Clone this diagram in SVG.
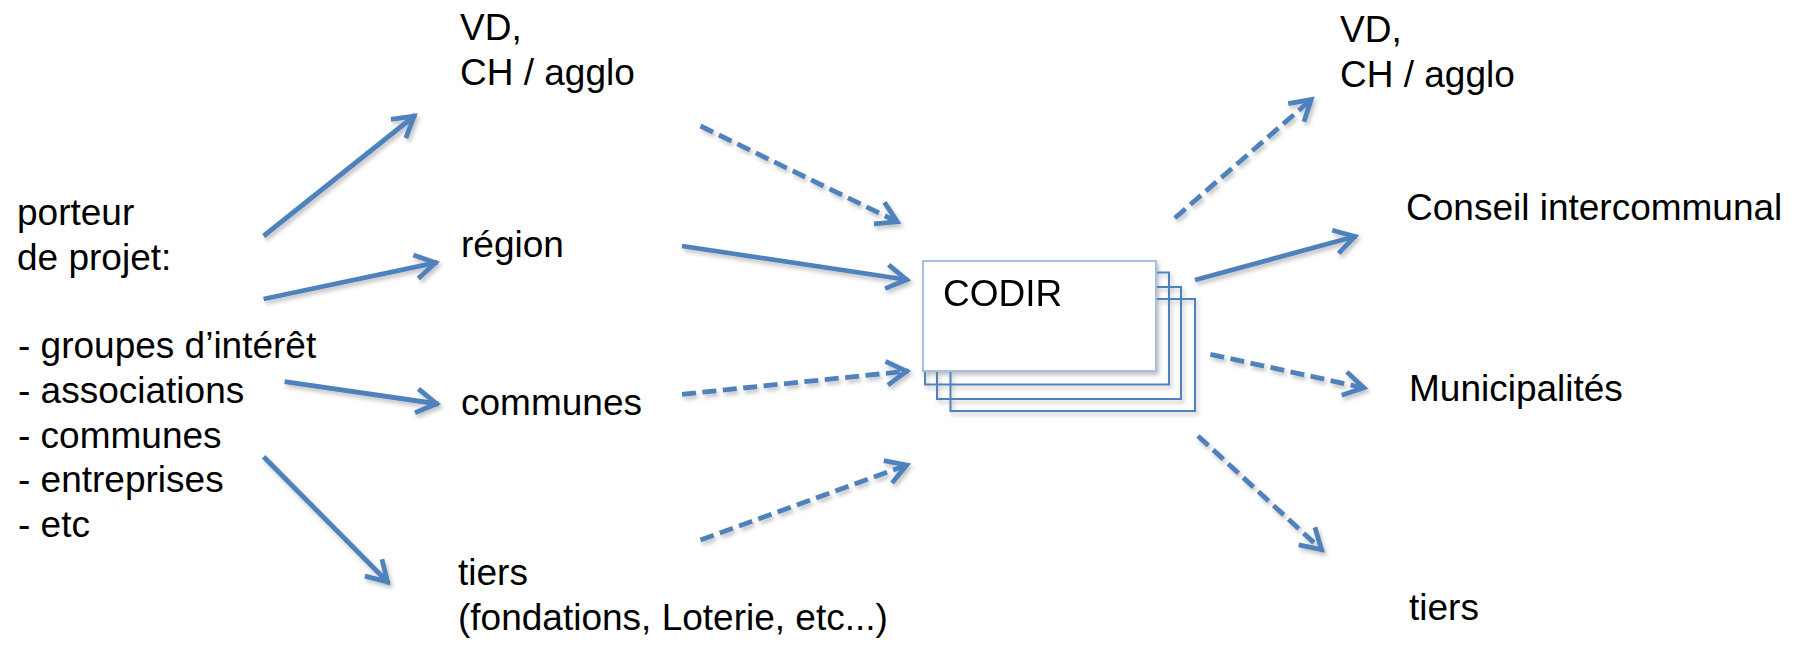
<svg xmlns="http://www.w3.org/2000/svg" width="1797" height="650" viewBox="0 0 1797 650">
<style>
text{font-family:"Liberation Sans",Arial,sans-serif;font-size:37px;fill:#000}
.c{fill:none;stroke:#4F81BD;stroke-width:4.8;marker-end:url(#ah)}
.d{stroke-dasharray:14 6.5}
.bk{fill:none;stroke:#4F81BD;stroke-width:2}
.fr{fill:#fff;stroke:#A7BFE3;stroke-width:2}
</style>
<defs>
<marker id="ah" markerUnits="userSpaceOnUse" orient="auto" overflow="visible" markerWidth="1" markerHeight="1">
<path d="M-22,-12 L-2,0 L-22,12" fill="none" stroke="#4F81BD" stroke-width="4.8"/>
</marker>
<filter id="sh" x="-20%" y="-20%" width="140%" height="140%">
<feDropShadow dx="2" dy="3" stdDeviation="2" flood-color="#000" flood-opacity="0.25"/>
</filter>
</defs>
<rect width="1797" height="650" fill="#fff"/>
<g id="porteur">
<text x="17" y="225">porteur</text>
<text x="17" y="269.5">de projet:</text>
<text x="18" y="358">- groupes d’intérêt</text>
<text x="18" y="403">- associations</text>
<text x="18" y="447.5">- communes</text>
<text x="18" y="492">- entreprises</text>
<text x="18" y="536.5">- etc</text>
</g>
<g id="vd-left"><text x="460" y="40">VD,</text><text x="460" y="85">CH / agglo</text></g>
<g id="region"><text x="461" y="257">région</text></g>
<g id="communes"><text x="461" y="415">communes</text></g>
<g id="tiers-left"><text x="458" y="585">tiers</text><text x="458" y="630">(fondations, Loterie, etc...)</text></g>
<g id="codir" filter="url(#sh)">
<rect class="bk" x="950.5" y="299" width="244.5" height="112"/>
<rect class="bk" x="937" y="287" width="244" height="112"/>
<rect class="bk" x="925" y="272.5" width="244" height="112"/>
<rect class="fr" x="923" y="261" width="233" height="110"/>
<text x="943" y="306">CODIR</text>
</g>
<g id="vd-right"><text x="1340" y="41.7">VD,</text><text x="1340" y="87">CH / agglo</text></g>
<g id="conseil"><text x="1406" y="220">Conseil intercommunal</text></g>
<g id="municipalites"><text x="1409" y="401">Municipalités</text></g>
<g id="tiers-right"><text x="1409" y="620">tiers</text></g>
<g id="connectors" filter="url(#sh)">
<line class="c" x1="263.6" y1="236" x2="415.6" y2="115"/>
<line class="c" x1="263.6" y1="299" x2="437.4" y2="262.3"/>
<line class="c" x1="284.6" y1="381.7" x2="438.5" y2="404"/>
<line class="c" x1="263.6" y1="456.7" x2="388.9" y2="583.3"/>
<line class="c d" x1="700.5" y1="126" x2="899" y2="222.7"/>
<line class="c" x1="682" y1="246" x2="908.6" y2="280"/>
<line class="c d" x1="682" y1="394.3" x2="908.6" y2="371"/>
<line class="c d" x1="700.5" y1="540" x2="908.6" y2="464.3"/>
<line class="c d" x1="1174.9" y1="218" x2="1312.7" y2="98.3"/>
<line class="c" x1="1195" y1="280" x2="1356.7" y2="236"/>
<line class="c d" x1="1210.4" y1="354.3" x2="1365.8" y2="388.3"/>
<line class="c d" x1="1198" y1="436" x2="1323" y2="551"/>
</g>
</svg>
